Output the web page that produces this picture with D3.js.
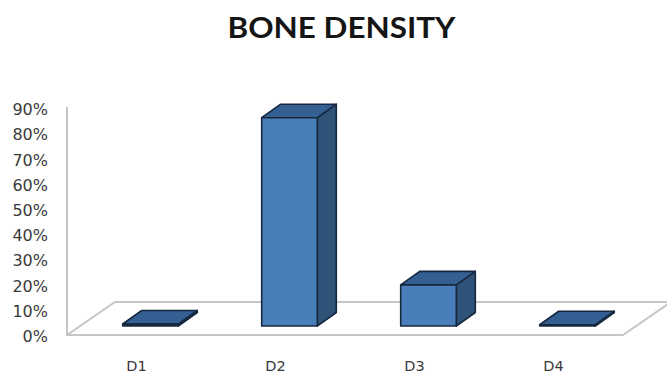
<!DOCTYPE html>
<html>
<head>
<meta charset="utf-8">
<style>
html,body{margin:0;padding:0;background:#fff;}
svg{display:block;}
</style>
<script src="https://cdn.jsdelivr.net/npm/d3@7"></script>
</head>
<body>
<svg id="chart" width="667" height="374"></svg>
<script>
// Share of cases per bone density class
const categories = ["D1", "D2", "D3", "D4"];
const percentValues = [0.8, 82.5, 16.3, 0.5];
const tickValues = [0, 10, 20, 30, 40, 50, 60, 70, 80, 90];
const chartTitle = "BONE DENSITY";

const floorFront = 335, floorLeft = 67, floorRight = 623;
const floorDx = 48, floorDy = -33;
const barDx = 19, barDy = -13.5;
const barBase = 326;
const unit = 2.525;

const svg = d3.select("#chart");

const x = d3.scaleBand()
  .domain(categories)
  .range([81, 637])
  .paddingInner(0.6)
  .paddingOuter(0.3);

// Bar heights start at the bar base, which sits inside the floor plane
const yBar = d3.scaleLinear().domain([0, 90]).range([barBase, barBase - 90 * unit]);
// Axis labels run along the front edge of the floor
const yAxisScale = d3.scaleLinear().domain([0, 90]).range([336.5, 109.5]);

svg.append("text")
  .attr("x", 341.5).attr("y", 37.5)
  .attr("text-anchor", "middle")
  .attr("font-family", "Lato, sans-serif")
  .attr("font-weight", 700)
  .attr("font-size", 29)
  .attr("textLength", 228)
  .attr("lengthAdjust", "spacingAndGlyphs")
  .attr("fill", "#151515")
  .text(chartTitle);

// Floor plane and back-left wall edge
const wall = svg.append("g").attr("fill", "none").attr("stroke", "#c6c6c6").attr("stroke-width", 2);
const line = d3.line();
wall.append("path").attr("d", line([
  [floorLeft, 107], [floorLeft, floorFront], [floorRight, floorFront],
  [floorRight + floorDx, floorFront + floorDy], [floorLeft + floorDx, floorFront + floorDy],
  [floorLeft, floorFront]
]));

// Value axis labels
svg.append("g")
  .attr("transform", "translate(48,0)")
  .call(d3.axisLeft(yAxisScale).tickValues(tickValues).tickFormat(d => d + "%").tickSize(0).tickPadding(0))
  .call(g => g.select(".domain").remove())
  .call(g => g.selectAll("text")
    .attr("font-family", "'DejaVu Sans', sans-serif")
    .attr("font-size", 16)
    .attr("fill", "#3a3a3a"));

// Category labels, centred under the front faces of the bars
const xLabel = d3.scaleBand().domain(categories).range([67, 623]);
svg.append("g")
  .attr("transform", "translate(0,370.5)")
  .call(d3.axisBottom(xLabel).tickSize(0).tickPadding(0))
  .call(g => g.select(".domain").remove())
  .call(g => g.selectAll("text")
    .attr("y", 0)
    .attr("dy", 0)
    .attr("font-family", "'DejaVu Sans', sans-serif")
    .attr("font-size", 14.5)
    .attr("fill", "#3a3a3a"));

// Extruded bars: side face, top face, front face
const bars = svg.append("g")
  .selectAll("g")
  .data(categories.map((c, i) => ({ c, v: percentValues[i] })))
  .join("g")
  .attr("stroke", "#16283f")
  .attr("stroke-width", 1.6)
  .attr("stroke-linejoin", "round");

bars.append("path")
  .attr("fill", "#2f5379")
  .attr("d", d => {
    const r = x(d.c) + x.bandwidth(), t = yBar(d.v);
    return line([[r, t], [r + barDx, t + barDy], [r + barDx, barBase + barDy], [r, barBase]]) + "Z";
  });

bars.append("path")
  .attr("fill", "#335f92")
  .attr("d", d => {
    const l = x(d.c), r = l + x.bandwidth(), t = yBar(d.v);
    return line([[l, t], [l + barDx, t + barDy], [r + barDx, t + barDy], [r, t]]) + "Z";
  });

bars.append("rect")
  .attr("fill", d => d.v < 2 ? "#16283f" : "#4a7ebb")
  .attr("x", d => x(d.c))
  .attr("width", x.bandwidth())
  .attr("y", d => yBar(d.v))
  .attr("height", d => barBase - yBar(d.v));
</script>
</body>
</html>
